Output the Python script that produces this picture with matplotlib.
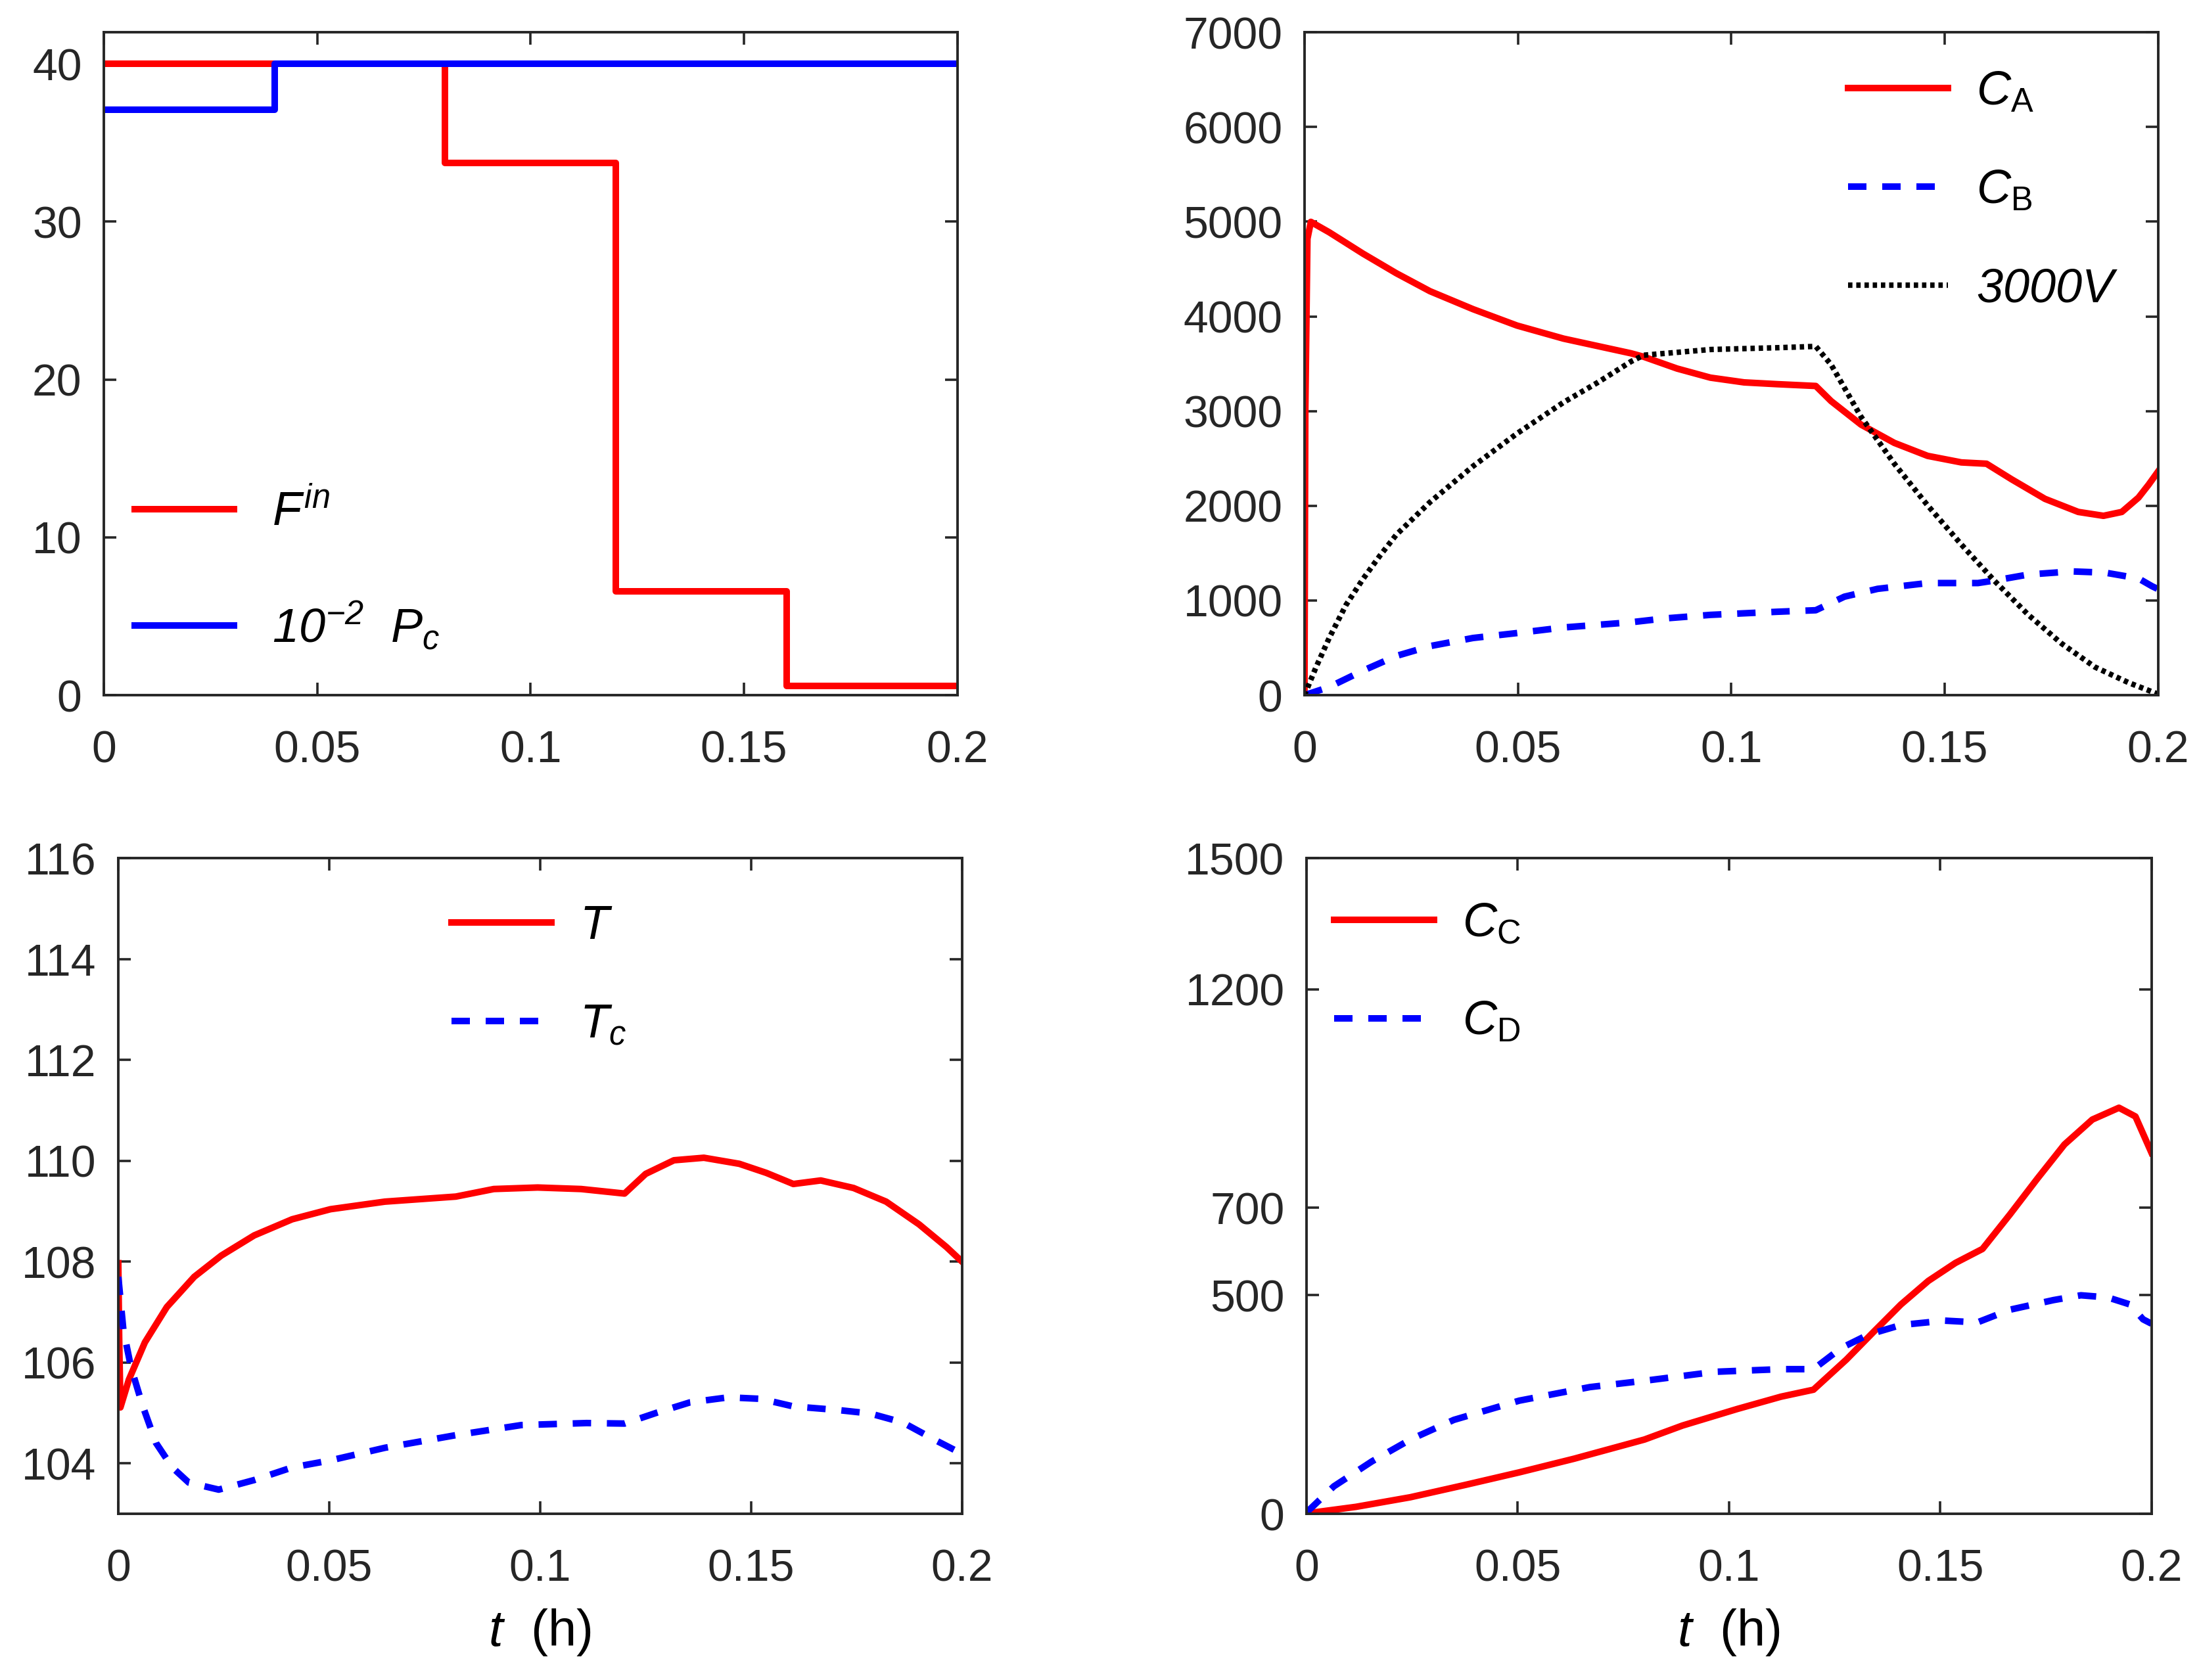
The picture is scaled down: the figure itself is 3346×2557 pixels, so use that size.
import numpy as np
import matplotlib
matplotlib.use('Agg')
from matplotlib import pyplot as plt

# step inputs
t_step = [0, 0.04, 0.08, 0.12, 0.16, 0.2]
F_in = [40, 40, 33.7, 6.6, 0.6, 0.6]
Pc = [37.1, 40, 40, 40, 40, 40]   # 10^-2 Pc

# concentrations A, B and 3000V
t_A = [0, 0.0002, 0.0007, 0.0015, 0.0058, 0.0137, 0.0215, 0.0294, 0.0395, 0.0498, 0.0607, 0.0765,
       0.0795, 0.0873, 0.0951, 0.103, 0.1108, 0.1198, 0.1234, 0.1304, 0.1382, 0.146, 0.1539, 0.1598,
       0.1657, 0.1735, 0.1813, 0.1872, 0.1915, 0.1954, 0.1978, 0.2]
C_A = [0, 3000, 4819, 4998, 4888, 4663, 4456, 4266, 4076, 3903, 3765, 3610,
       3573, 3449, 3353, 3303, 3284, 3265, 3105, 2857, 2664, 2527, 2458, 2444,
       2279, 2073, 1935, 1894, 1935, 2086, 2224, 2362]
t_B = [0, 0.0058, 0.0137, 0.0215, 0.0294, 0.0395, 0.0498, 0.0607, 0.0765, 0.0843, 0.0951, 0.1108,
       0.1198, 0.1265, 0.1343, 0.146, 0.1578, 0.1617, 0.1696, 0.1798, 0.1876, 0.1954, 0.1986, 0.2]
C_B = [0, 86, 259, 414, 518, 604, 656, 715, 770, 810, 848, 881,
       897, 1040, 1123, 1184, 1184, 1211, 1274, 1307, 1294, 1233, 1150, 1120]
t_V = [0, 0.0027, 0.0058, 0.0097, 0.0137, 0.0176, 0.0215, 0.0294, 0.0395, 0.0498, 0.0607, 0.0686, 0.0765,
       0.0795, 0.0951, 0.1108, 0.1198, 0.1234, 0.1304, 0.1382, 0.146, 0.1539, 0.1617, 0.1696, 0.1774,
       0.1852, 0.1931, 0.1994, 0.2]
V3000 = [0, 294, 604, 950, 1226, 1468, 1693, 2038, 2418, 2763, 3092, 3299, 3523,
         3590, 3650, 3669, 3683, 3490, 2940, 2444, 2004, 1591, 1206, 848, 545,
         297, 132, 22, 0]

# temperatures
t_T = [0, 0.0002, 0.0005, 0.0025, 0.0063, 0.0115, 0.018, 0.0244, 0.0322, 0.0412, 0.0503, 0.0632, 0.08,
       0.089, 0.0994, 0.1097, 0.12, 0.125, 0.1317, 0.1388, 0.1472, 0.1536, 0.16, 0.1665, 0.1743, 0.182,
       0.1898, 0.1963, 0.2]
T = [107.97, 106.5, 105.11, 105.66, 106.40, 107.10, 107.70, 108.12, 108.52, 108.84, 109.04, 109.19, 109.29,
     109.44, 109.47, 109.44, 109.35, 109.74, 110.01, 110.06, 109.94, 109.76, 109.54, 109.61, 109.46, 109.19,
     108.74, 108.29, 108.0]
t_Tc = [0, 0.0012, 0.003, 0.0057, 0.0089, 0.0128, 0.0167, 0.0238, 0.0322, 0.0412, 0.0503, 0.0632, 0.08,
        0.0955, 0.111, 0.12, 0.1278, 0.1355, 0.1446, 0.1523, 0.16, 0.1704, 0.1782, 0.186, 0.1937, 0.2]
Tc = [107.70, 106.65, 105.91, 105.16, 104.41, 103.92, 103.62, 103.48, 103.67, 103.92, 104.06, 104.31, 104.56,
      104.76, 104.80, 104.79, 105.01, 105.21, 105.31, 105.28, 105.13, 105.06, 104.99, 104.81, 104.46, 104.19]

# concentrations C and D
t_C = [0, 0.0117, 0.0246, 0.0375, 0.0504, 0.0633, 0.08, 0.089, 0.102, 0.1123, 0.12, 0.1278, 0.1342,
       0.1407, 0.1472, 0.1536, 0.16, 0.1665, 0.173, 0.1794, 0.186, 0.1923, 0.1962, 0.2]
C_C = [1, 16, 38, 66, 95, 126, 170, 202, 240, 268, 284, 353, 416,
       479, 533, 574, 606, 685, 767, 845, 902, 929, 909, 826]
t_D = [0, 0.0065, 0.0155, 0.0246, 0.0349, 0.0504, 0.0671, 0.0813, 0.0968, 0.1123, 0.12, 0.1265, 0.133,
       0.1407, 0.151, 0.1588, 0.1665, 0.1768, 0.1833, 0.1897, 0.1949, 0.198, 0.2]
C_D = [3, 63, 120, 170, 215, 259, 290, 306, 325, 331, 331, 379, 410,
       432, 442, 438, 467, 489, 500, 495, 479, 445, 435]

x_ticks = [0, 0.05, 0.1, 0.15, 0.2]
x_ticklabels = ['0', '0.05', '0.1', '0.15', '0.2']

plt.rcParams['font.family'] = ['Liberation Sans', 'DejaVu Sans']
plt.rcParams['mathtext.fontset'] = 'custom'
plt.rcParams['mathtext.rm'] = 'Liberation Sans'
plt.rcParams['mathtext.it'] = 'Liberation Sans:italic'
plt.rcParams['mathtext.sf'] = 'Liberation Sans:italic'   # italic digits
plt.rcParams['mathtext.bf'] = 'Liberation Sans:bold'

DARK = '#262626'
LW = 3.6
DASH = (0, (2.8, 2.4))
DOT = (0, (0.8, 0.7))


def style_axes(ax, yticks, ylim):
	ax.set_xlim(0, 0.2)
	ax.set_ylim(*ylim)
	ax.set_xticks(x_ticks)
	ax.set_xticklabels(x_ticklabels)
	ax.set_yticks(yticks)
	ax.tick_params(direction='in', top=True, right=True, length=7, width=1.3,
		colors=DARK, labelsize=24.5)
	ax.tick_params(axis='x', pad=19)
	ax.tick_params(axis='y', pad=12)
	for s in ax.spines.values():
		s.set_linewidth(1.4)
		s.set_color(DARK)


def add_legend(ax, x, y, spacing, pad=0.7):
	ax.legend(loc='upper left', bbox_to_anchor=(x, y), frameon=False, fontsize=26,
		handlelength=2.1, handletextpad=pad, labelspacing=spacing,
		borderaxespad=0, borderpad=0)


fig = plt.figure(figsize=(16.73, 12.785), dpi=200)

# top left
ax1 = fig.add_axes([0.0472, 0.5862, 0.3882, 0.3946])
ax1.plot(t_step, F_in, color='red', lw=LW, drawstyle='steps-post', label=r'$F^{in}$')
ax1.plot(t_step, Pc, color='blue', lw=LW, drawstyle='steps-post',
	label=r'$\mathsf{10}^{\mathsf{-2}}\ \ P_c$')
style_axes(ax1, [0, 10, 20, 30, 40], (0, 42))
add_legend(ax1, 0.036, 0.31, 1.35, 0.8)

# top right
ax2 = fig.add_axes([0.5932, 0.5862, 0.3882, 0.3946])
ax2.plot(t_A, C_A, color='red', lw=LW, label=r'$C_{\mathrm{A}}$')
ax2.plot(t_B, C_B, color='blue', lw=LW, ls=DASH, label=r'$C_{\mathrm{B}}$')
ax2.plot(t_V, V3000, color='black', lw=3.0, ls=DOT, label=r'$\mathsf{3000V}$')
style_axes(ax2, range(0, 7001, 1000), (0, 7000))
add_legend(ax2, 0.637, 0.942, 1.15, 0.6)

# bottom left
ax3 = fig.add_axes([0.0538, 0.0989, 0.3837, 0.3903])
ax3.plot(t_T, T, color='red', lw=LW, label=r'$T$')
ax3.plot(t_Tc, Tc, color='blue', lw=LW, ls=DASH, label=r'$T_c$')
style_axes(ax3, range(104, 117, 2), (103, 116))
ax3.set_xlabel(r'$t$  (h)', fontsize=28, labelpad=9)
add_legend(ax3, 0.395, 0.929, 1.15, 0.6)

# bottom right
ax4 = fig.add_axes([0.5941, 0.0989, 0.3843, 0.3903])
ax4.plot(t_C, C_C, color='red', lw=LW, label=r'$C_{\mathrm{C}}$')
ax4.plot(t_D, C_D, color='blue', lw=LW, ls=DASH, label=r'$C_{\mathrm{D}}$')
style_axes(ax4, [0, 500, 700, 1200, 1500], (0, 1500))
ax4.set_xlabel(r'$t$  (h)', fontsize=28, labelpad=9)
add_legend(ax4, 0.033, 0.933, 1.15, 0.6)

fig.savefig('out.png', dpi=200)
